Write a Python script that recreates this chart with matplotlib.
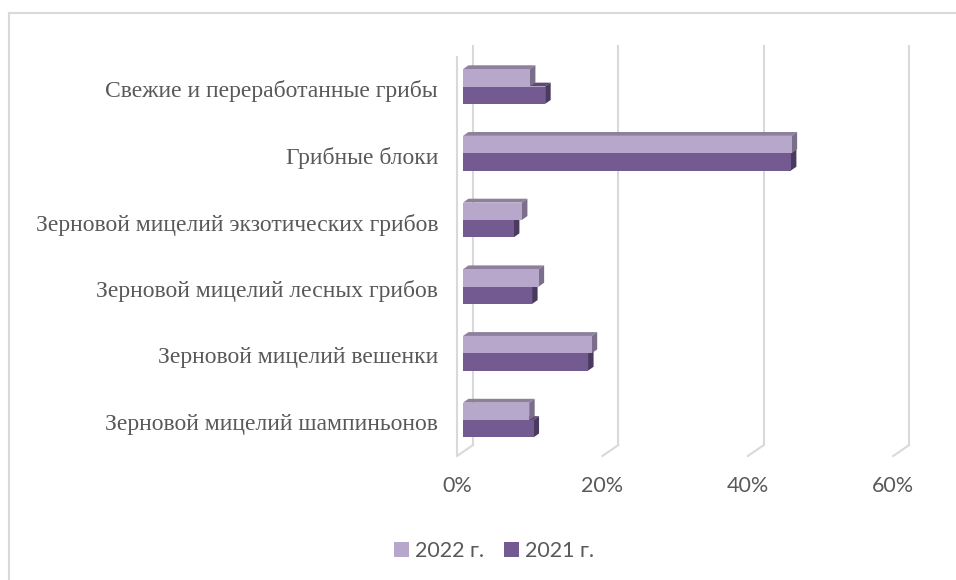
import matplotlib
matplotlib.use("Agg")
import matplotlib.pyplot as plt
from matplotlib.patches import Polygon, Rectangle, Patch

categories = [
    "Зерновой мицелий шампиньонов",
    "Зерновой мицелий вешенки",
    "Зерновой мицелий лесных грибов",
    "Зерновой мицелий экзотических грибов",
    "Грибные блоки",
    "Свежие и переработанные грибы",
]
share_2022 = [9.1, 17.7, 10.4, 8.1, 45.2, 9.2]
share_2021 = [9.7, 17.2, 9.5, 7.0, 45.1, 11.3]
x_ticks = [0, 20, 40, 60]
series_names = ["2022 г.", "2021 г."]

# colours: front face, top face, side face
LIGHT = ("#B7A8CB", "#8E809D", "#7B6E8B")
DARK = ("#735A91", "#5E4A78", "#4A3A5F")
GRID = "#D9D9D9"
TEXT = "#595959"

BAR_H = 0.26          # height of one bar front face (category units)
DX, DY = 0.76, 0.058  # depth offset of the bar extrusion
FRONT_DX, BACK_DX = -0.83, 1.38   # floor front / back wall, relative to bar plane
FLOOR_FRONT_Y, FLOOR_BACK_Y = -0.54, -0.375
WALL_TOP_BACK, WALL_TOP_FRONT = 5.62, 5.46


def bar3d(ax, y0, value, colors, zorder):
    front, top, side = colors
    y1 = y0 + BAR_H
    ax.add_patch(Polygon([(0, y1), (value, y1), (value + DX, y1 + DY), (DX, y1 + DY)],
                         closed=True, facecolor=top, edgecolor="none", zorder=zorder))
    ax.add_patch(Polygon([(value, y0), (value, y1), (value + DX, y1 + DY), (value + DX, y0 + DY)],
                         closed=True, facecolor=side, edgecolor="none", zorder=zorder))
    ax.add_patch(Rectangle((0, y0), value, BAR_H, facecolor=front, edgecolor="none",
                           zorder=zorder + 0.5))


def main():
    fig = plt.figure(figsize=(9.56, 5.8), dpi=100)
    W, H = 956, 580
    # axes box in pixels: x 440..930, y 40..470 (from top)
    ax = fig.add_axes([440 / W, (H - 470) / H, 490 / W, 430 / H])
    ax.set_xlim((440 - 463) / 7.27, (930 - 463) / 7.27)
    ax.set_ylim((420 - 470) / 66.7, (420 - 40) / 66.7)
    ax.axis("off")

    # chart border (top and left edges)
    fig.add_artist(plt.Line2D([9 / W, 9 / W], [0, 1 - 13 / H], color="#D9D9D9", lw=1.5))
    fig.add_artist(plt.Line2D([9 / W, 1], [1 - 13 / H, 1 - 13 / H], color="#D9D9D9", lw=1.5))

    # back wall gridlines and floor lines
    for v in x_ticks:
        ax.plot([v + BACK_DX, v + BACK_DX], [FLOOR_BACK_Y, WALL_TOP_BACK],
                color=GRID, lw=1.5, zorder=1, solid_capstyle="butt")
        ax.plot([v + FRONT_DX, v + BACK_DX], [FLOOR_FRONT_Y, FLOOR_BACK_Y],
                color=GRID, lw=1.5, zorder=1)
        ax.text(v + FRONT_DX, (420 - 486.5) / 66.7, f"{v}%", ha="center", va="center",
                fontsize=15.5, family="Lato", color=TEXT)
    # left wall front edge
    ax.plot([FRONT_DX, FRONT_DX], [FLOOR_FRONT_Y, WALL_TOP_FRONT],
            color=GRID, lw=1.5, zorder=1, solid_capstyle="butt")

    for i, name in enumerate(categories):
        bar3d(ax, i - BAR_H, share_2021[i], DARK, zorder=3)
        bar3d(ax, i, share_2022[i], LIGHT, zorder=4)
        ax.text((438 - 463) / 7.27, i - 0.07, name, ha="right", va="center",
                fontsize=17, family="Liberation Serif", color=TEXT)

    handles = [Patch(facecolor=LIGHT[0]), Patch(facecolor=DARK[0])]
    fig.legend(handles, series_names, loc="center", bbox_to_anchor=(494 / W, 1 - 551 / H),
               ncol=2, frameon=False, handlelength=0.7, handleheight=0.7,
               handletextpad=0.25, columnspacing=0.95,
               prop={"family": "Lato", "size": 15.5}, labelcolor=TEXT)

    fig.savefig("out.png", dpi=100)


if __name__ == "__main__":
    main()
